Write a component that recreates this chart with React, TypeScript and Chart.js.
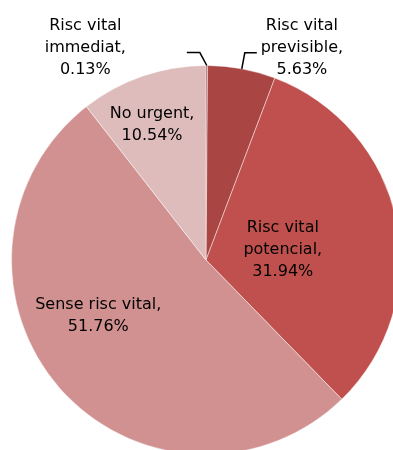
import React, { useEffect, useRef } from "react";
import { Chart, registerables } from "chart.js";

Chart.register(...registerables);

const categories = [
  "Risc vital immediat",
  "Risc vital previsible",
  "Risc vital potencial",
  "Sense risc vital",
  "No urgent",
];
const values = [0.13, 5.63, 31.94, 51.76, 10.54];
const labelLines = [
  ["Risc vital", "immediat,", "0.13%"],
  ["Risc vital", "previsible,", "5.63%"],
  ["Risc vital", "potencial,", "31.94%"],
  ["Sense risc vital,", "51.76%"],
  ["No urgent,", "10.54%"],
];
const colors = ["#8E3937", "#A94644", "#C0504D", "#D19190", "#DFBCBC"];

// label placement: polar angle (deg clockwise from top) and radius factor
const labelPolar = [
  { a: 330.4, k: 1.256 },
  { a: 24.3, k: 1.198 },
  { a: 82.6, k: 0.398 },
  { a: 242.4, k: 0.625 },
  { a: 338.3, k: 0.75 },
];
// leader lines: elbow polar position and horizontal run direction
const leaders: Record<number, { a: number; k: number; run: number }> = {
  0: { a: 358.3, k: 1.067, run: -13 },
  1: { a: 10.6, k: 1.084, run: 12 },
};

const labelPlugin = {
  id: "sliceLabels",
  afterDatasetsDraw(chart: any) {
    const ctx = chart.ctx;
    const meta = chart.getDatasetMeta(0);
    const arc0 = meta.data[0];
    const cx = arc0.x;
    const cy = arc0.y;
    const r = arc0.outerRadius;
    const pol = (deg: number, k: number) => {
      const t = (deg * Math.PI) / 180;
      return { x: cx + k * r * Math.sin(t), y: cy - k * r * Math.cos(t) };
    };
    ctx.save();
    // leader lines
    ctx.strokeStyle = "#000";
    ctx.lineWidth = 1.5;
    Object.keys(leaders).forEach((key) => {
      const i = Number(key);
      const arc = meta.data[i];
      const mid = (arc.startAngle + arc.endAngle) / 2;
      const sx = cx + r * Math.cos(mid);
      const sy = cy + r * Math.sin(mid);
      const L = leaders[i];
      const e = pol(L.a, L.k);
      ctx.beginPath();
      ctx.moveTo(sx, sy);
      ctx.lineTo(e.x, e.y);
      ctx.lineTo(e.x + L.run, e.y);
      ctx.stroke();
    });
    // text
    ctx.fillStyle = "#000";
    ctx.font = "16px 'DejaVu Sans'";
    ctx.textAlign = "center";
    ctx.textBaseline = "middle";
    const lh = 22;
    labelLines.forEach((lines, i) => {
      const p = pol(labelPolar[i].a, labelPolar[i].k);
      const y0 = p.y - ((lines.length - 1) * lh) / 2;
      lines.forEach((ln, j) => ctx.fillText(ln, p.x, y0 + j * lh));
    });
    ctx.restore();
  },
};

export default function App() {
  const ref = useRef<HTMLCanvasElement>(null);
  useEffect(() => {
    if (!ref.current) return;
    const chart = new Chart(ref.current, {
      type: "pie",
      data: {
        labels: categories,
        datasets: [
          {
            data: values,
            backgroundColor: colors,
            borderColor: "rgba(255,255,255,0.45)",
            borderWidth: 1,
          },
        ],
      },
      options: {
        responsive: false,
        animation: false,
        layout: { padding: { left: 11, top: 65, right: 10, bottom: 10 } },
        plugins: {
          legend: { display: false },
          tooltip: { enabled: false },
        },
      },
      plugins: [labelPlugin],
    });
    return () => chart.destroy();
  }, []);
  return (
    <div
      style={{
        position: "fixed",
        left: 0,
        top: 0,
        width: 393,
        height: 450,
        overflow: "hidden",
        background: "#fff",
      }}
    >
      <canvas ref={ref} width={411} height={465} style={{ display: "block" }} />
    </div>
  );
}
